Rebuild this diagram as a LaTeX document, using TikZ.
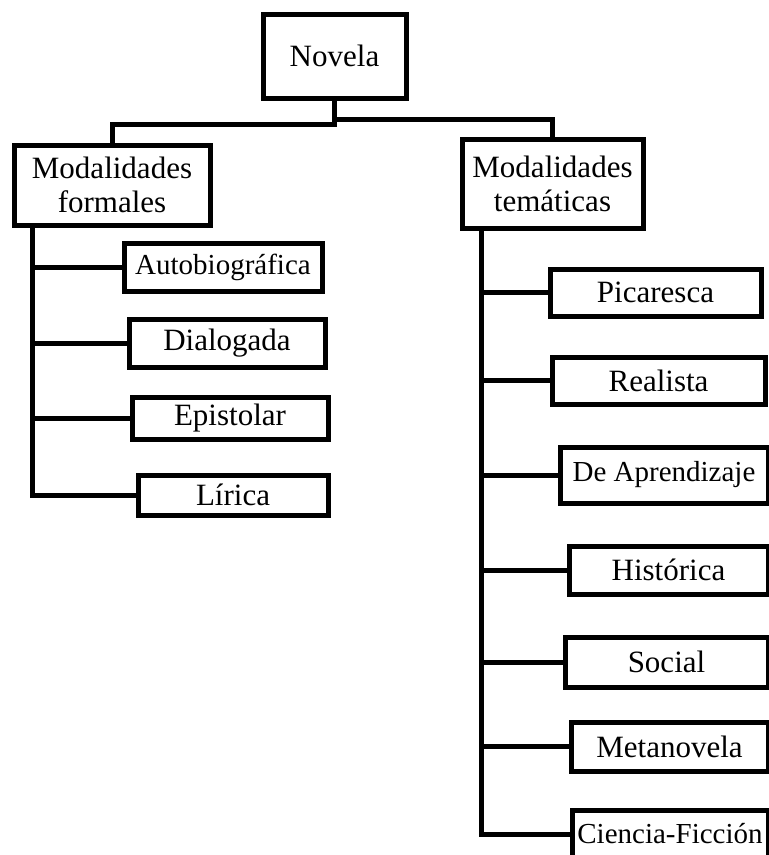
\documentclass[tikz,border=0pt]{standalone}
\usepackage{fontspec}
\setmainfont{Liberation Serif}
\usepackage{tikz}
\usetikzlibrary{positioning}
\tikzset{
  caja/.style={draw, line width=5pt, inner sep=0pt, align=center, font=\fontsize{31}{34}\selectfont},
  cajita/.style={caja, font=\fontsize{29}{32}\selectfont},
  rama/.style={line width=5pt}
}

\begin{document}
\begin{tikzpicture}[x=1pt,y=-1pt]
\useasboundingbox (0,0) rectangle (769,855);
\node [caja, minimum width=143pt, minimum height=84pt] (nov) at (334.5,56) {Novela};
\node [caja, minimum width=196pt, minimum height=80pt] (form) at (112,185) {Modalidades\\formales};
\node [caja, minimum width=181pt, minimum height=89pt] (tem) at (552.5,183.5) {Modalidades\\temáticas};
\draw [rama] (nov.south) -- ++(0,24) -| (form.north);
\draw [rama] (nov.south) -- ++(0,19) -| (tem.north);
\node [cajita, minimum width=198pt, minimum height=48pt] (auto) at (223,267) {Autobiográfica};
\node [caja, minimum width=196pt, minimum height=48pt] (dial) at (227,343) {Dialogada};
\node [caja, minimum width=196pt, minimum height=42pt] (epis) at (230,418) {Epistolar};
\node [caja, minimum width=190pt, minimum height=40pt] (liri) at (233,495) {Lírica};
\coordinate (ftr) at ([xshift=21pt]form.south west);
\foreach \c in {auto,dial,epis,liri} \draw [rama] (ftr) |- (\c.west);
\node [caja, minimum width=211pt, minimum height=47pt] (pica) at (655.5,292.5) {Picaresca};
\node [caja, minimum width=213pt, minimum height=47pt] (real) at (658.5,380.5) {Realista};
\node [cajita, minimum width=208pt, minimum height=56pt] (deap) at (664,475) {De Aprendizaje};
\node [caja, minimum width=199pt, minimum height=48pt] (hist) at (668.5,570) {Histórica};
\node [caja, minimum width=203pt, minimum height=50pt] (soci) at (666.5,662) {Social};
\node [caja, minimum width=197pt, minimum height=49pt] (meta) at (669.5,746.5) {Metanovela};
\node [cajita, minimum width=196pt, minimum height=48pt] (cien) at (670,834) {Ciencia-Ficción};
\coordinate (ttr) at ([xshift=22pt]tem.south west);
\foreach \c in {pica,real,deap,hist,soci,meta,cien} \draw [rama] (ttr) |- (\c.west);
\end{tikzpicture}
\end{document}
